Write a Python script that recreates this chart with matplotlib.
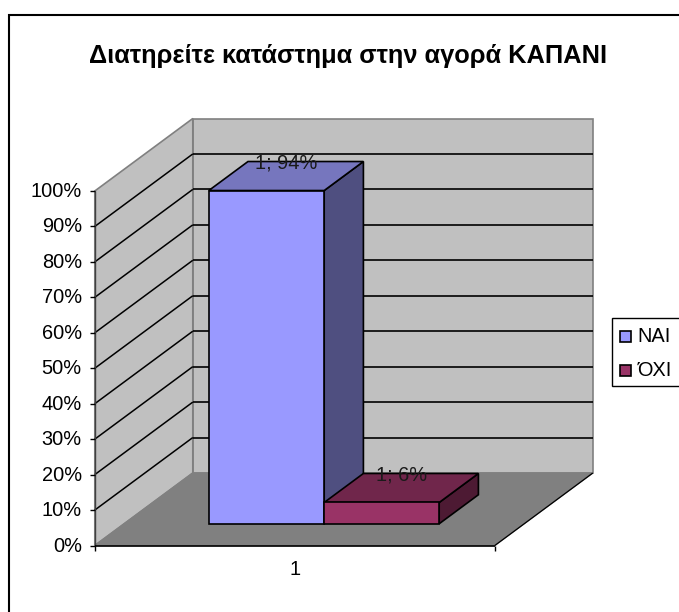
import matplotlib
matplotlib.use("Agg")
import matplotlib.pyplot as plt
from matplotlib.patches import Polygon, Rectangle

title = "Διατηρείτε κατάστημα στην αγορά ΚΑΠΑΝΙ"
series_names = ["ΝΑΙ", "ΌΧΙ"]
series_values = [94, 6]
category_label = "1"
y_ticks = [0, 10, 20, 30, 40, 50, 60, 70, 80, 90, 100]
front_colors = ["#9999FF", "#993366"]
top_colors = ["#7676BE", "#70264B"]
side_colors = ["#4F4F80", "#4D1A33"]

W, H = 679, 612
plt.rcParams["font.family"] = ["Liberation Sans", "DejaVu Sans"]
fig = plt.figure(figsize=(W / 100, H / 100), dpi=100, facecolor="white")
ax = fig.add_axes([0, 0, 1, 1])
ax.set_xlim(0, W)
ax.set_ylim(H, 0)
ax.axis("off")

X0, Y0, AW, AH, DX, DY = 94.8, 545.5, 400, 354.5, 98, 72.5
FS = 14.4


def P(u, v, d):
    """Project (category fraction, percent, depth fraction) to pixels."""
    return (X0 + u * AW + d * DX, Y0 - v / 100 * AH - d * DY)


def poly(pts, fc, ec, lw, z):
    ax.add_patch(Polygon(pts, closed=True, facecolor=fc, edgecolor=ec, lw=lw, joinstyle="miter", zorder=z))


def seg(a, b, color="black", lw=1.0, z=3):
    ax.plot([a[0], b[0]], [a[1], b[1]], color=color, lw=lw, zorder=z, solid_capstyle="butt")


# Outer frame (right and bottom fall outside the picture)
ax.plot([8.5, 8.5, 690], [H + 5, 14.5, 14.5], color="black", lw=1.5, zorder=1, solid_joinstyle="miter")

# Walls and floor
poly([P(0, 0, 1), P(1, 0, 1), P(1, 100, 1), P(0, 100, 1)], "#C0C0C0", "#808080", 1.2, 2)
poly([P(0, 0, 0), P(0, 0, 1), P(0, 100, 1), P(0, 100, 0)], "#C0C0C0", "#808080", 1.2, 2)
poly([P(0, 0, 0), P(1, 0, 0), P(1, 0, 1), P(0, 0, 1)], "#808080", "#808080", 1.0, 2)
seg(P(1, 0, 0), P(1, 0, 1), lw=0.9)

# Gridlines on the walls
for t in y_ticks[1:-1]:
    seg(P(0, t, 0), P(0, t, 1), lw=1.1)
    seg(P(0, t, 1), P(1, t, 1), lw=1.2)

# Axes
seg(P(0, 0, 0), P(0, 100, 0), color="#404040", lw=1.0, z=4)
seg(P(0, 0, 0), P(1, 0, 0), color="black", lw=1.2, z=4)
for t in y_ticks:
    a = P(0, t, 0)
    seg((a[0] - 4.5, a[1]), a, lw=1.0, z=4)
    ax.text(a[0] - 13, a[1] + 0.5, f"{t}%", ha="right", va="center", fontsize=FS, color="black", zorder=6)
for u in (0, 1):
    a = P(u, 0, 0)
    seg(a, (a[0], a[1] + 5), lw=1.0, z=4)
ax.text(P(0.5, 0, 0)[0], 569.5, category_label, ha="center", va="center", fontsize=FS, zorder=6)

# Bars
D0, D1 = 0.30, 0.70
edges = [0.2115, 0.5, 0.7875]
for i, val in enumerate(series_values):
    u0, u1 = edges[i], edges[i + 1]
    z = 5
    poly([P(u1, 0, D0), P(u1, 0, D1), P(u1, val, D1), P(u1, val, D0)], side_colors[i], "black", 1.2, z)
    poly([P(u0, val, D0), P(u1, val, D0), P(u1, val, D1), P(u0, val, D1)], top_colors[i], "black", 1.2, z)
    poly([P(u0, 0, D0), P(u1, 0, D0), P(u1, val, D0), P(u0, val, D0)], front_colors[i], "black", 1.2, z)
    lx = P((u0 + u1) / 2, val, 0.5)[0]
    ly = P((u0 + u1) / 2, val, D1)[1]
    ax.text(lx, ly + 1.5, f"{category_label}; {val}%", ha="center", va="center", fontsize=FS, color="#1A1A1A", zorder=7)

# Title
ax.text(348.5, 55.5, title, ha="center", va="center", fontsize=18.3, fontweight="bold", zorder=6)

# Legend
ax.add_patch(Rectangle((611.5, 317.5), 90, 68.5, facecolor="white", edgecolor="black", lw=1.0, zorder=5))
for i, name in enumerate(series_names):
    y = 336 + i * 34.5
    ax.add_patch(Rectangle((619.5, y - 5.5), 11, 11, facecolor=front_colors[i], edgecolor="black", lw=1.2, zorder=6))
    ax.text(637.5, y + 0.5, name, ha="left", va="center", fontsize=FS, zorder=6)

fig.savefig("out.png", dpi=100, facecolor="white")
